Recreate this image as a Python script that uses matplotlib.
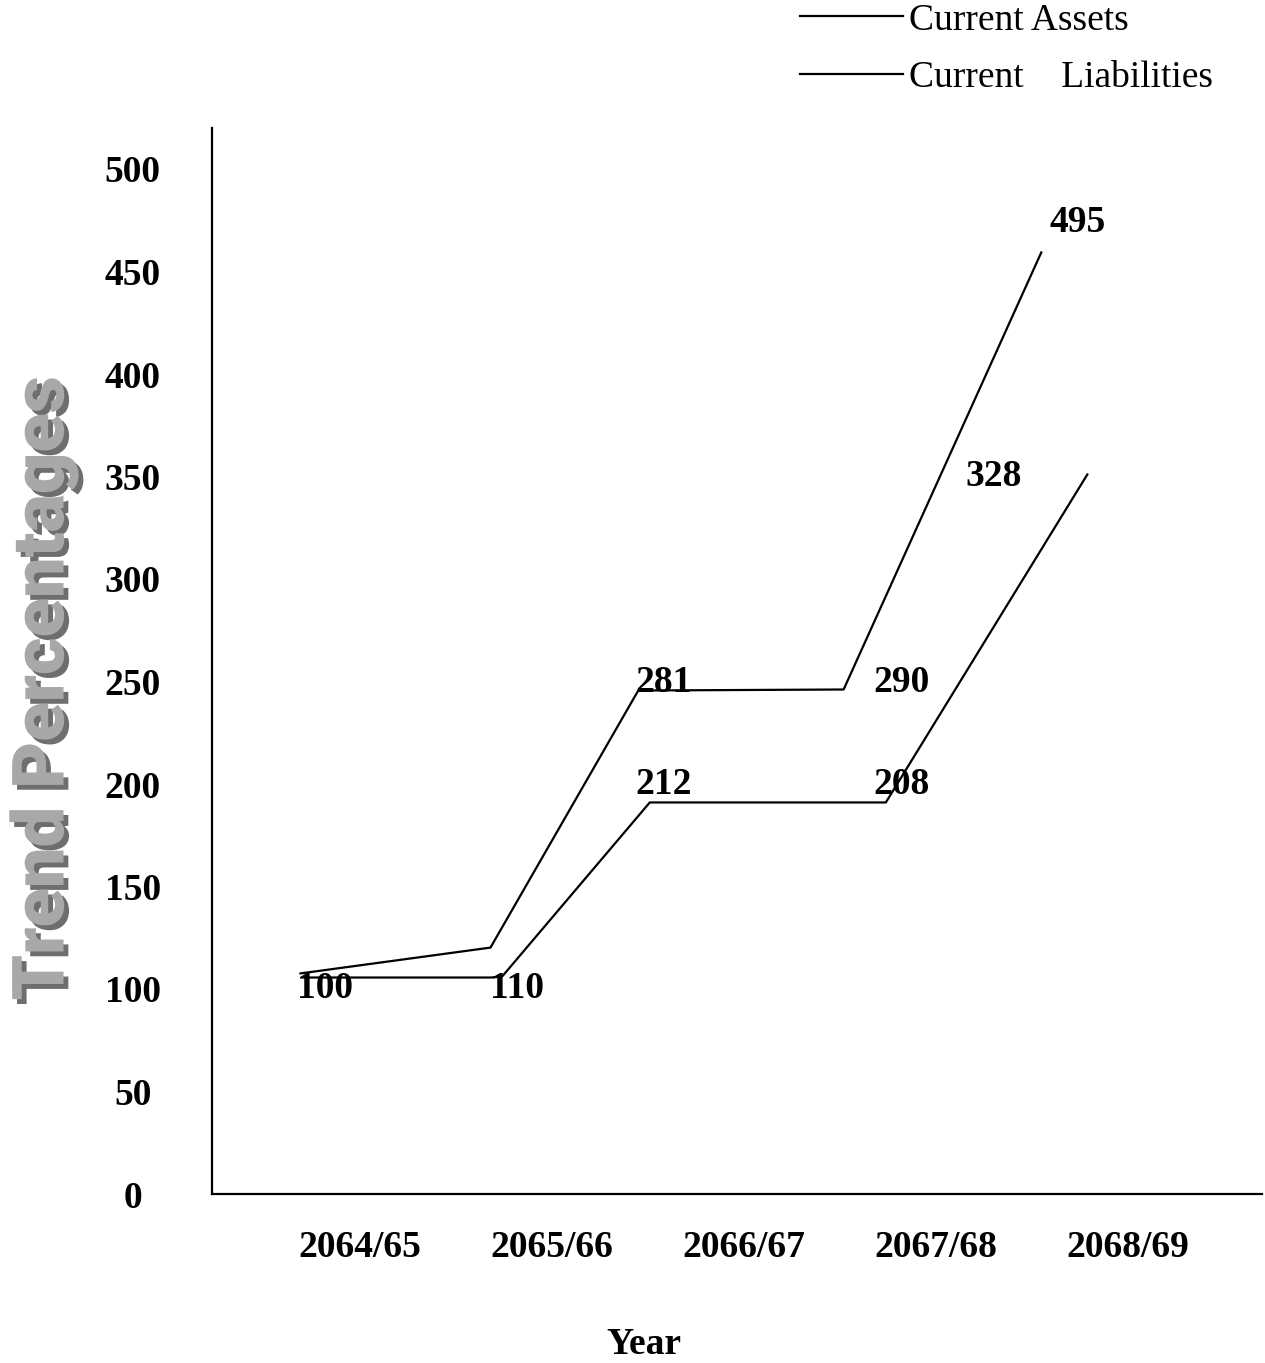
import matplotlib
matplotlib.use("Agg")
import matplotlib.pyplot as plt
import matplotlib.patheffects as pe
from matplotlib import font_manager

# ---- data ----
years = ["2064/65", "2065/66", "2066/67", "2067/68", "2068/69"]
y_ticks = [0, 50, 100, 150, 200, 250, 300, 350, 400, 450, 500]

# line vertices as drawn in the picture (x in category units, y in trend %)
assets_x = [-0.31, 0.68, 1.45, 2.52, 3.55]
assets_y = [107.6, 120.2, 245.6, 246.1, 459.3]
liab_x = [-0.30, 0.68, 0.74, 1.51, 2.74, 3.79]
liab_y = [105.6, 105.6, 106.0, 191.0, 191.0, 351.0]

# value labels written on the chart
label_text = ["100", "110", "281", "290", "212", "208", "328", "495"]
label_x = [-0.18, 0.82, 1.58, 2.82, 1.58, 2.82, 3.30, 3.74]
label_y = [100, 100, 249.5, 249.5, 199.8, 199.8, 350, 474]

serif = ["Liberation Serif", "DejaVu Serif"]
available = {f.name for f in font_manager.fontManager.ttflist}
ylab_family = "Roboto" if "Roboto" in available else "DejaVu Sans"
FS = 27

fig = plt.figure(figsize=(12.65, 13.63), dpi=100)
W, H = 1265, 1363
ax = fig.add_axes([212 / W, 1 - 1194 / H, (1262 - 212) / W, (1194 - 128) / H])

ax.plot(assets_x, assets_y, color="black", lw=1.6, label="Current Assets")
ax.plot(liab_x, liab_y, color="black", lw=1.6, label="Current    Liabilities")

for t, x, y in zip(label_text, label_x, label_y):
    ax.text(x, y, t, ha="center", va="center", fontsize=FS,
            fontweight="bold", family=serif)

ax.set_xlim(-0.771, 4.70)
ax.set_ylim(0, 520)
ax.set_xticks(range(len(years)))
ax.set_xticklabels(years, fontsize=FS, fontweight="bold", family=serif)
ax.set_yticks(y_ticks)
ax.set_yticklabels([str(v) for v in y_ticks], fontsize=FS, fontweight="bold",
                   family=serif, ha="center")
ax.tick_params(axis="both", length=0)
ax.tick_params(axis="x", pad=26)
ax.tick_params(axis="y", pad=57)
for s in ["top", "right"]:
    ax.spines[s].set_visible(False)
for s in ["left", "bottom"]:
    ax.spines[s].set_linewidth(1.6)

fig.text(644 / W, 1 - 1344 / H, "Year", ha="center", va="center",
         fontsize=FS, fontweight="bold", family=serif)

yl = fig.text(44 / W, 1 - 688 / H, "Trend Percentages", rotation=90,
              ha="center", va="center", fontsize=52, fontweight="black",
              family=ylab_family, color="#a8a8a8")
yl.set_path_effects([pe.withSimplePatchShadow(offset=(3.5, -3.5),
                                              shadow_rgbFace="#6e6e6e",
                                              alpha=1.0)])

leg = fig.legend(loc="upper left", bbox_to_anchor=(800 / W, 1 - 3 / H),
                 frameon=False, prop={"family": serif, "size": FS},
                 handlelength=2.75, handletextpad=0.15, labelspacing=0.62,
                 borderpad=0.0, borderaxespad=0.0)

fig.savefig("out.png", dpi=100)
